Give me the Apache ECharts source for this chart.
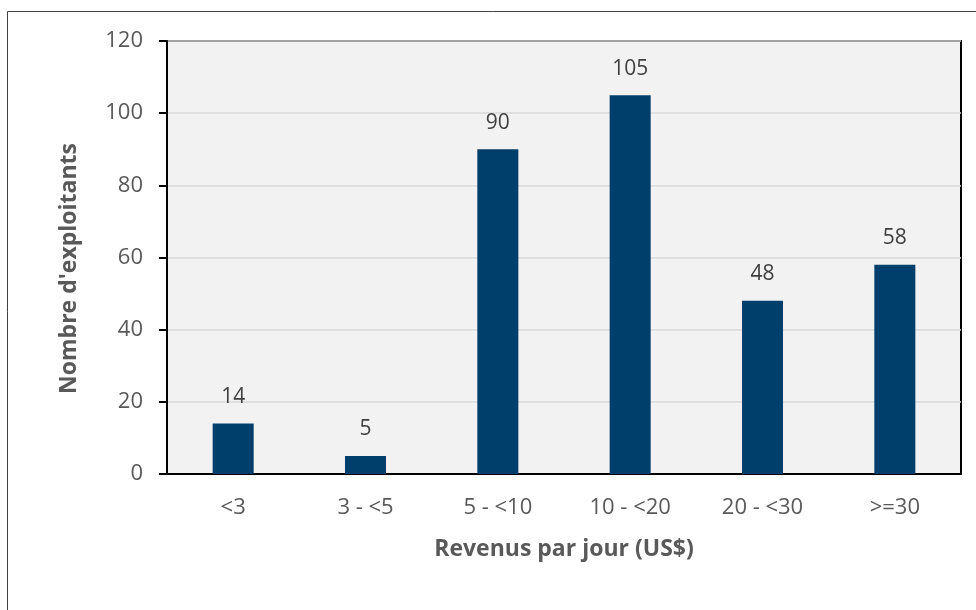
<!DOCTYPE html>
<html>
<head>
<meta charset="utf-8">
<script src="https://cdn.jsdelivr.net/npm/echarts@6/dist/echarts.min.js"></script>
<style>
  html, body { margin: 0; padding: 0; background: #fff; }
  #chart { width: 976px; height: 610px; }
</style>
</head>
<body>
<div id="chart"></div>
<script>
const categories = ["<3", "3 - <5", "5 - <10", "10 - <20", "20 - <30", ">=30"];
const values = [14, 5, 90, 105, 48, 58];
const yTicks = { min: 0, max: 120, interval: 20 };

const font = "Open Sans";
const chart = echarts.init(document.getElementById("chart"));

const option = {
  animation: false,
  textStyle: { fontFamily: font },
  graphic: [
    {
      type: "rect",
      shape: { x: 7.5, y: 11.5, width: 1000, height: 1000 },
      style: { fill: "none", stroke: "#404040", lineWidth: 1 },
      silent: true,
    },
  ],
  grid: {
    left: 167,
    top: 41,
    right: 15,
    bottom: 136,
    show: true,
    backgroundColor: "#f2f2f2",
    borderColor: "#000",
    borderWidth: 2,
  },
  xAxis: {
    type: "category",
    data: categories,
    name: "Revenus par jour (US$)",
    nameLocation: "middle",
    nameGap: 64,
    nameTextStyle: { color: "#595959", fontSize: 23, fontWeight: "bold", fontFamily: font },
    axisLine: { lineStyle: { color: "#000", width: 2 } },
    axisTick: { show: false },
    axisLabel: { color: "#595959", fontSize: 22, margin: 23, fontFamily: font },
  },
  yAxis: {
    type: "value",
    min: yTicks.min,
    max: yTicks.max,
    interval: yTicks.interval,
    name: "Nombre d'exploitants",
    nameLocation: "middle",
    nameGap: 86,
    nameTextStyle: {
      color: "#595959",
      fontSize: 23,
      fontWeight: "bold",
      fontFamily: font,
      padding: [0, 22, 0, 0],
    },
    axisLine: { show: true, lineStyle: { color: "#000", width: 2 } },
    axisTick: { show: true, length: 8, lineStyle: { color: "#000", width: 2 } },
    axisLabel: { color: "#595959", fontSize: 22, margin: 24, fontFamily: font },
    splitLine: { lineStyle: { color: "#d9d9d9", width: 1.5 } },
  },
  series: [
    {
      type: "bar",
      data: values,
      barWidth: "31%",
      itemStyle: { color: "#003f6b" },
      label: {
        show: true,
        position: "top",
        distance: 16,
        color: "#404040",
        fontSize: 21,
        fontFamily: font,
      },
    },
  ],
};

chart.setOption(option);
</script>
</body>
</html>
